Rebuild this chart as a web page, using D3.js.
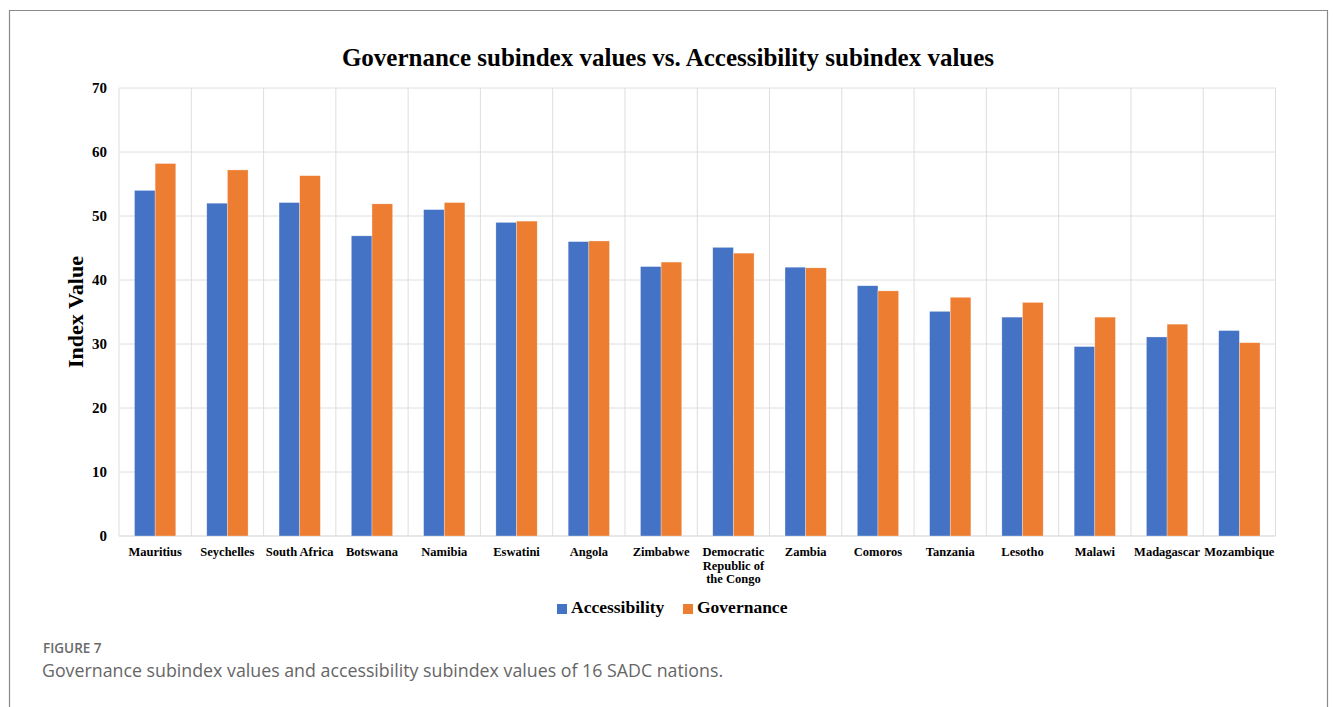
<!DOCTYPE html>
<html>
<head>
<meta charset="utf-8">
<script src="https://cdn.jsdelivr.net/npm/d3@7"></script>
<style>
  body { margin: 0; background: white; }
</style>
</head>
<body>
<script>
const w = 1333;
const h = 707;

// values
const countries = ["Mauritius", "Seychelles", "South Africa", "Botswana", "Namibia", "Eswatini", "Angola", "Zimbabwe",
  "Democratic Republic of the Congo", "Zambia", "Comoros", "Tanzania", "Lesotho", "Malawi", "Madagascar", "Mozambique"];
const accessibility = [54.0, 52.0, 52.1, 46.9, 51.0, 49.0, 46.0, 42.1, 45.1, 42.0, 39.1, 35.1, 34.2, 29.6, 31.1, 32.1];
const governance = [58.2, 57.2, 56.3, 51.9, 52.1, 49.2, 46.1, 42.8, 44.2, 41.9, 38.3, 37.3, 36.5, 34.2, 33.1, 30.2];
const seriesNames = ["Accessibility", "Governance"];
const colors = ["#4472C4", "#ED7D31"];
const yTicks = [0, 10, 20, 30, 40, 50, 60, 70];

// label line breaks as in the figure
const labelLines = {"Democratic Republic of the Congo": ["Democratic", "Republic of", "the Congo"]};

const rows = countries.map((c, i) => ({country: c, values: [accessibility[i], governance[i]]}));

const svg = d3.select("body")
  .append("svg")
  .attr("width", w)
  .attr("height", h)
  .style("display", "block")
  .style("font-family", "'Liberation Serif', 'Times New Roman', serif");

// outer frame (left, top, right)
svg.append("path")
  .attr("d", "M9.5," + h + " V10.5 H1327.5 V" + h)
  .attr("fill", "none")
  .attr("stroke", "#8a8a8a")
  .attr("stroke-width", 1.2);

const plot = {left: 119, right: 1275.5, top: 88, bottom: 536};

const x0 = d3.scaleBand()
  .domain(countries)
  .range([plot.left, plot.right])
  .padding(0);

const x1 = d3.scaleBand()
  .domain(seriesNames)
  .range([0, x0.bandwidth()])
  .paddingInner(0)
  .paddingOuter(0.75);

const y = d3.scaleLinear()
  .domain([0, 70])
  .range([plot.bottom, plot.top]);

// horizontal gridlines
svg.append("g")
  .selectAll("line")
  .data(yTicks)
  .enter()
  .append("line")
  .attr("x1", plot.left)
  .attr("x2", plot.right)
  .attr("y1", d => y(d))
  .attr("y2", d => y(d))
  .attr("stroke", (d) => d == 0 ? "#cfcfcf" : "#dedede")
  .attr("stroke-width", 1);

// vertical gridlines at category edges
const edges = countries.map(c => x0(c)).concat([plot.right]);
svg.append("g")
  .selectAll("line")
  .data(edges)
  .enter()
  .append("line")
  .attr("x1", d => d)
  .attr("x2", d => d)
  .attr("y1", plot.top)
  .attr("y2", plot.bottom)
  .attr("stroke", "#dedede")
  .attr("stroke-width", 1);

// y axis labels
const yAxis = d3.axisLeft(y).tickValues(yTicks).tickSize(0).tickPadding(12);
const yg = svg.append("g")
  .attr("transform", "translate(" + plot.left + ",0)")
  .call(yAxis);
yg.select(".domain").remove();
yg.selectAll("text")
  .style("font-family", "'Liberation Serif', serif")
  .style("font-weight", "bold")
  .style("font-size", "15px")
  .attr("fill", "#000");

// bars
const groups = svg.append("g")
  .selectAll("g")
  .data(rows)
  .enter()
  .append("g")
  .attr("transform", d => "translate(" + x0(d.country) + ",0)");

groups.selectAll("rect")
  .data(d => d.values.map((v, i) => ({name: seriesNames[i], value: v, i: i})))
  .enter()
  .append("rect")
  .attr("x", d => x1(d.name))
  .attr("width", x1.bandwidth())
  .attr("y", d => y(d.value))
  .attr("height", d => y(0) - y(d.value))
  .attr("fill", d => colors[d.i])
  .attr("stroke", "rgba(255,255,255,0.5)")
  .attr("stroke-width", 0.6);

// x axis labels
const xl = svg.append("g")
  .selectAll("text")
  .data(countries)
  .enter()
  .append("text")
  .attr("x", d => x0(d) + x0.bandwidth() / 2)
  .attr("y", 556)
  .attr("text-anchor", "middle")
  .style("font-weight", "bold")
  .style("font-size", "12.5px")
  .attr("fill", "#000");

xl.each(function(d) {
  const lines = labelLines[d] || [d];
  const t = d3.select(this);
  lines.forEach((line, i) => {
    t.append("tspan")
      .attr("x", x0(d) + x0.bandwidth() / 2)
      .attr("dy", i == 0 ? 0 : 13.5)
      .text(line);
  });
});

// title
svg.append("text")
  .attr("x", 668)
  .attr("y", 66)
  .attr("text-anchor", "middle")
  .style("font-weight", "bold")
  .style("font-size", "25px")
  .text("Governance subindex values vs. Accessibility subindex values");

// y axis title
svg.append("text")
  .attr("transform", "translate(83,312) rotate(-90)")
  .attr("text-anchor", "middle")
  .style("font-weight", "bold")
  .style("font-size", "22px")
  .text("Index Value");

// legend
const legendX = [557, 683];
const legend = svg.append("g")
  .selectAll("g")
  .data(seriesNames)
  .enter()
  .append("g")
  .attr("transform", (d, i) => "translate(" + legendX[i] + ",604)");

legend.append("rect")
  .attr("width", 10)
  .attr("height", 10)
  .attr("fill", (d, i) => colors[i]);

legend.append("text")
  .attr("x", 14)
  .attr("y", 9)
  .style("font-weight", "bold")
  .style("font-size", "17.5px")
  .text(d => d);

// caption
svg.append("text")
  .attr("x", 43)
  .attr("y", 653)
  .style("font-family", "'Open Sans', sans-serif")
  .style("font-size", "13.5px")
  .style("font-weight", "600")
  .attr("fill", "#6a6a6a")
  .text("FIGURE 7");

svg.append("text")
  .attr("x", 42)
  .attr("y", 677)
  .style("font-family", "'Open Sans', sans-serif")
  .style("font-size", "17.8px")
  .attr("fill", "#666")
  .text("Governance subindex values and accessibility subindex values of 16 SADC nations.");
</script>
</body>
</html>
